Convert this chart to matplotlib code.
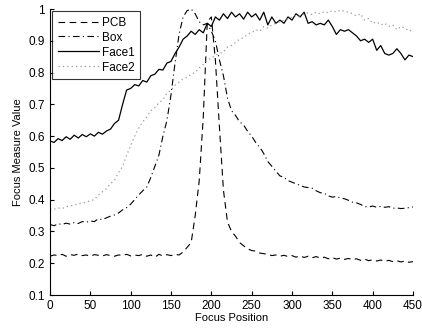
import numpy as np
import matplotlib
matplotlib.use('Agg')
import matplotlib.pyplot as plt

plt.rcParams['font.family'] = ['Liberation Sans', 'DejaVu Sans']

# focus positions, step 5
pos = np.arange(0, 451, 5)

pcb = [0.222, 0.226, 0.224, 0.228, 0.222, 0.227, 0.225, 0.229, 0.224, 0.226,
       0.222, 0.227, 0.225, 0.223, 0.227, 0.224, 0.222, 0.226, 0.225, 0.228,
       0.223, 0.226, 0.224, 0.228, 0.222, 0.226, 0.219, 0.228, 0.223, 0.227,
       0.224, 0.228, 0.226, 0.235, 0.250, 0.265, 0.350, 0.460, 0.660, 0.960,
       0.975, 0.840, 0.630, 0.430, 0.330, 0.300, 0.285, 0.265, 0.255, 0.245,
       0.240, 0.238, 0.232, 0.230, 0.228, 0.224, 0.226, 0.222, 0.225, 0.221,
       0.224, 0.219, 0.223, 0.218, 0.222, 0.217, 0.221, 0.216, 0.219, 0.214,
       0.218, 0.213, 0.216, 0.212, 0.215, 0.211, 0.214, 0.209, 0.213, 0.208,
       0.211, 0.207, 0.210, 0.206, 0.209, 0.205, 0.208, 0.204, 0.207, 0.203,
       0.205]

box = [0.322, 0.318, 0.324, 0.322, 0.326, 0.323, 0.328, 0.325, 0.331, 0.329,
       0.333, 0.331, 0.340, 0.337, 0.343, 0.348, 0.352, 0.358, 0.368, 0.375,
       0.386, 0.400, 0.415, 0.428, 0.440, 0.470, 0.505, 0.540, 0.600, 0.650,
       0.730, 0.830, 0.920, 0.975, 0.995, 1.000, 0.985, 0.960, 0.950, 0.955,
       0.930, 0.900, 0.840, 0.790, 0.720, 0.680, 0.665, 0.645, 0.635, 0.615,
       0.600, 0.580, 0.565, 0.545, 0.520, 0.505, 0.490, 0.475, 0.470, 0.460,
       0.455, 0.450, 0.445, 0.440, 0.438, 0.436, 0.428, 0.422, 0.420, 0.412,
       0.408, 0.410, 0.405, 0.403, 0.398, 0.392, 0.390, 0.385, 0.378, 0.377,
       0.380, 0.376, 0.379, 0.376, 0.378, 0.373, 0.374, 0.372, 0.373, 0.375,
       0.377]

face1 = [0.585, 0.580, 0.592, 0.586, 0.598, 0.590, 0.603, 0.594, 0.605, 0.598,
         0.607, 0.600, 0.612, 0.606, 0.616, 0.622, 0.640, 0.650, 0.700, 0.745,
         0.750, 0.762, 0.758, 0.775, 0.770, 0.790, 0.795, 0.810, 0.808, 0.830,
         0.835, 0.860, 0.880, 0.905, 0.915, 0.930, 0.920, 0.935, 0.925, 0.955,
         0.945, 0.975, 0.965, 0.985, 0.970, 0.990, 0.975, 0.985, 0.968, 0.990,
         0.975, 0.985, 0.965, 0.990, 0.950, 0.975, 0.955, 0.965, 0.955, 0.975,
         0.965, 0.985, 0.975, 0.990, 0.955, 0.960, 0.950, 0.955, 0.950, 0.965,
         0.945, 0.920, 0.935, 0.930, 0.935, 0.925, 0.915, 0.900, 0.905, 0.895,
         0.905, 0.870, 0.885, 0.860, 0.855, 0.860, 0.875, 0.860, 0.840, 0.855,
         0.850]

face2 = [0.367, 0.370, 0.374, 0.372, 0.378, 0.380, 0.383, 0.387, 0.390, 0.392,
         0.397, 0.400, 0.415, 0.425, 0.435, 0.450, 0.462, 0.485, 0.505, 0.540,
         0.570, 0.600, 0.625, 0.645, 0.660, 0.680, 0.690, 0.705, 0.715, 0.735,
         0.745, 0.760, 0.770, 0.780, 0.785, 0.795, 0.800, 0.815, 0.825, 0.840,
         0.845, 0.855, 0.860, 0.865, 0.880, 0.885, 0.895, 0.905, 0.910, 0.920,
         0.925, 0.935, 0.930, 0.945, 0.940, 0.950, 0.955, 0.960, 0.965, 0.970,
         0.975, 0.980, 0.978, 0.985, 0.988, 0.982, 0.990, 0.985, 0.992, 0.988,
         0.995, 0.990, 0.997, 0.992, 0.990, 0.985, 0.978, 0.985, 0.965, 0.970,
         0.955, 0.960, 0.950, 0.955, 0.945, 0.950, 0.935, 0.945, 0.940, 0.930,
         0.935]

fig = plt.figure(figsize=(4.22, 3.29), dpi=100)
ax = fig.add_axes([50/422, 34/329, 363/422, 286/329])

ax.plot(pos, pcb, color='black', ls=(0, (6, 4)), lw=0.8, label='PCB')
ax.plot(pos, box, color='black', ls=(0, (6, 3, 1, 3)), lw=0.8, label='Box')
ax.plot(pos, face1, color='black', ls='-', lw=0.9, label='Face1')
ax.plot(pos, face2, color='#999999', ls=(0, (1, 2.5)), lw=0.9, label='Face2')

ax.set_xlim(0, 450)
ax.set_ylim(0.1, 1.0)
ax.set_xticks(np.arange(0, 451, 50))
ax.set_yticks(np.arange(0.1, 1.01, 0.1))
ax.set_yticklabels(['0.1', '0.2', '0.3', '0.4', '0.5', '0.6', '0.7', '0.8', '0.9', '1'])
ax.spines['top'].set_visible(False)
ax.spines['right'].set_visible(False)
ax.tick_params(direction='in', length=3, labelsize=8.5, width=0.8)
ax.set_xlabel('Focus Position', fontsize=8, labelpad=1)
ax.set_ylabel('Focus Measure Value', fontsize=8, labelpad=4)

leg = ax.legend(loc='upper left', fontsize=8.5, frameon=True, fancybox=False,
                edgecolor='black', borderaxespad=0.2, handlelength=3.5,
                handletextpad=0.25, labelspacing=0.25, borderpad=0.45)
leg.get_frame().set_linewidth(0.8)

fig.savefig('out.png', dpi=100)
